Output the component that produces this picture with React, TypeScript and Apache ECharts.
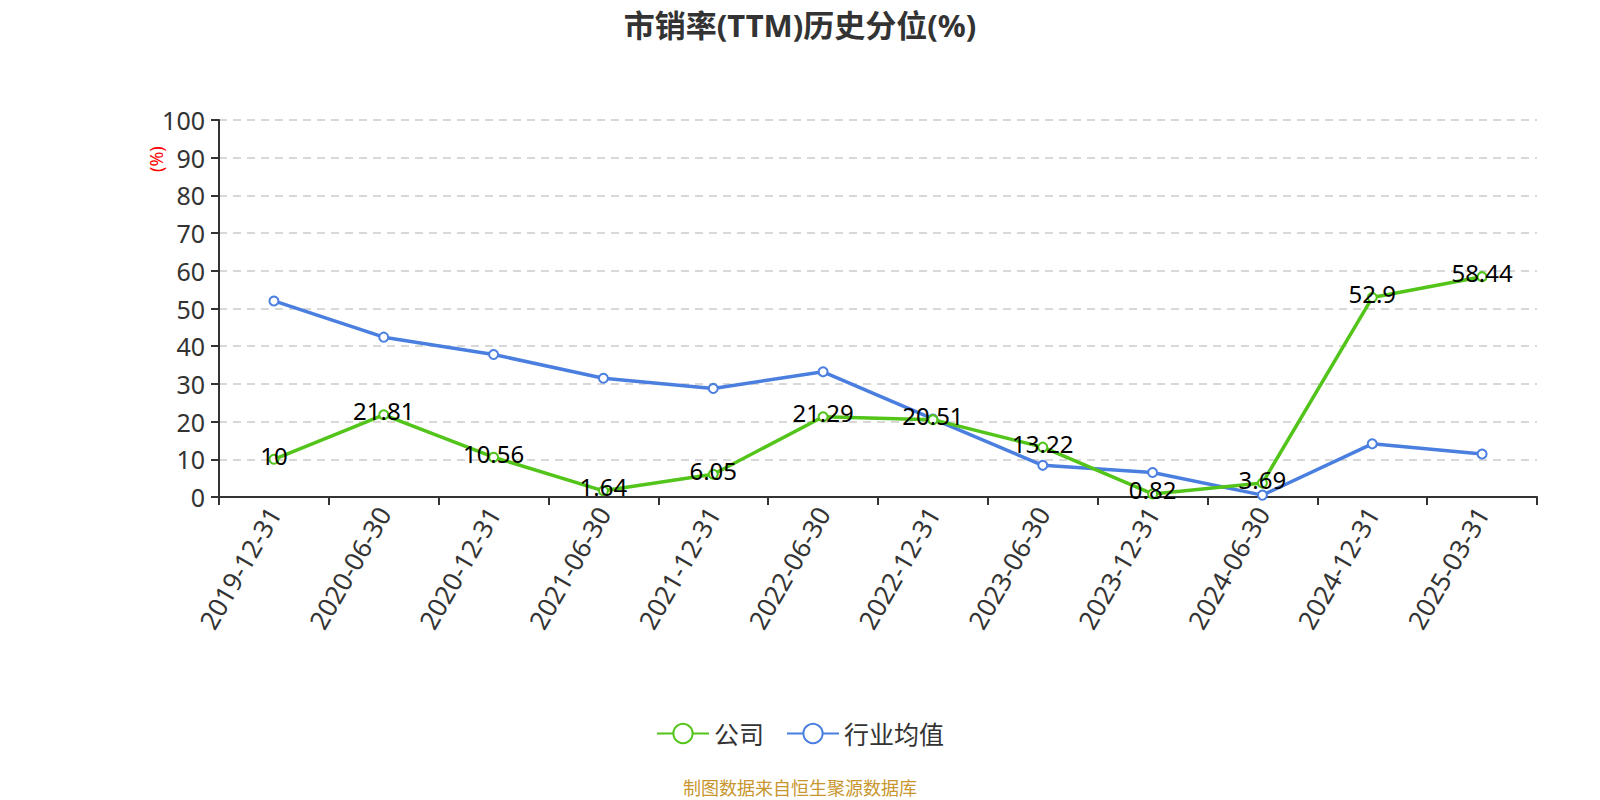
import React, { useEffect, useRef } from "react";
import * as echarts from "echarts";

const categories = [
  "2019-12-31", "2020-06-30", "2020-12-31", "2021-06-30", "2021-12-31", "2022-06-30",
  "2022-12-31", "2023-06-30", "2023-12-31", "2024-06-30", "2024-12-31", "2025-03-31",
];
const companyValues = [10, 21.81, 10.56, 1.64, 6.05, 21.29, 20.51, 13.22, 0.82, 3.69, 52.9, 58.44];
const industryValues = [52, 42.4, 37.8, 31.5, 28.8, 33.2, 20.7, 8.4, 6.5, 0.5, 14.1, 11.4];
const yTicks = { min: 0, max: 100, interval: 10 };

const FONT = "'Noto Sans', 'Noto Sans CJK SC', sans-serif";

export default function App() {
  const ref = useRef<HTMLDivElement>(null);
  useEffect(() => {
    document.body.style.margin = "0";
    document.body.style.overflow = "hidden";
    if (!ref.current) return;
    const chart = echarts.init(ref.current, null, { renderer: "svg" });
    chart.setOption({
      animation: false,
      textStyle: { fontFamily: FONT },
      title: {
        text: "市销率(TTM)历史分位(%)",
        left: "center",
        top: 4,
        textStyle: { fontSize: 31, fontWeight: "bold", color: "#333", fontFamily: FONT },
      },
      legend: {
        top: 716,
        left: "center",
        itemWidth: 52,
        itemHeight: 24,
        itemGap: 22,
        textStyle: { fontSize: 25, color: "#333" },
        data: ["公司", "行业均值"],
      },
      grid: { left: 219, right: 63, top: 120, bottom: 303, containLabel: false },
      xAxis: {
        type: "category",
        data: categories,
        boundaryGap: true,
        axisLine: { lineStyle: { color: "#333", width: 2 } },
        axisTick: { show: true, length: 8, lineStyle: { color: "#333", width: 2 } },
        axisLabel: { rotate: 60, fontSize: 26, color: "#333", margin: 12, interval: 0 },
      },
      yAxis: {
        type: "value",
        min: yTicks.min,
        max: yTicks.max,
        interval: yTicks.interval,
        axisLine: { show: true, lineStyle: { color: "#333", width: 2 } },
        axisTick: { show: true, length: 8, lineStyle: { color: "#333", width: 2 } },
        axisLabel: { fontSize: 25, color: "#333", margin: 14 },
        splitLine: { lineStyle: { color: "#ccc", type: [8, 6], width: 1.5 } },
      },
      graphic: [
        {
          type: "text",
          x: 147,
          y: 172,
          rotation: Math.PI / 2,
          style: { text: "(%)", fill: "#ff0000", fontSize: 18, fontFamily: FONT },
        },
        {
          type: "text",
          left: "center",
          top: 779,
          style: { text: "制图数据来自恒生聚源数据库", fill: "#c8962e", fontSize: 18, fontFamily: FONT },
        },
      ],
      series: [
        {
          name: "公司",
          type: "line",
          data: companyValues,
          symbol: "emptyCircle",
          symbolSize: 9,
          itemStyle: { color: "#52c41a" },
          lineStyle: { width: 3.5, color: "#52c41a" },
          label: {
            show: true,
            position: "inside",
            offset: [0, -4],
            fontSize: 24,
            color: "#000",
            fontFamily: FONT,
          },
          z: 3,
        },
        {
          name: "行业均值",
          type: "line",
          data: industryValues,
          symbol: "emptyCircle",
          symbolSize: 9,
          itemStyle: { color: "#4a7fe0" },
          lineStyle: { width: 3.5, color: "#4a7fe0" },
          z: 2,
        },
      ],
    });
    return () => chart.dispose();
  }, []);
  return <div ref={ref} style={{ width: 1600, height: 800 }} />;
}
